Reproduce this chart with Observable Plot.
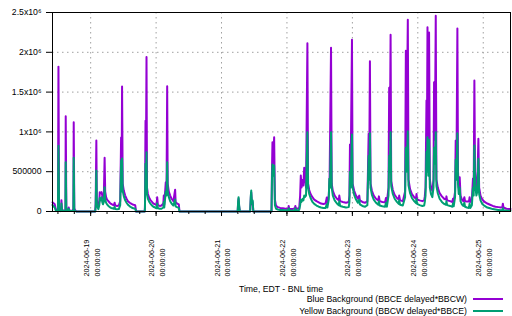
<!DOCTYPE html>
<html><head><meta charset="utf-8">
<script src="https://cdn.jsdelivr.net/npm/d3@7"></script>
<script src="https://cdn.jsdelivr.net/npm/@observablehq/plot@0.6"></script>
<style>
body{margin:0;background:#fff;font-family:"Liberation Sans",Arial,sans-serif;}
#wrap{position:relative;width:512px;height:316px;overflow:hidden;}
.ov{position:absolute;font-size:8.7px;line-height:10px;color:#000;white-space:nowrap;}
.leg{right:9px;display:flex;align-items:center;}
.sw{display:inline-block;width:30px;height:2px;margin-left:6px;}
</style></head><body><div id="wrap"></div>
<script>
// ---- data ----
const seriesNames = ["Blue Background (BBCE delayed*BBCW)", "Yellow Background (BBCW delayed*BBCE)"];
const seriesColors = ["#9400d3", "#009e73"];
const xAxisTitle = "Time, EDT - BNL time";
const dayTickLabels = ["2024-06-19","2024-06-20","2024-06-21","2024-06-22","2024-06-23","2024-06-24","2024-06-25"];
const timeTickLabel = "00:00:00";
const yTicks = [0, 500000, 1000000, 1500000, 2000000, 2500000];
const yTickLabels = ["0", "500000", "1x10\u2076", "1.5x10\u2076", "2x10\u2076", "2.5x10\u2076"];
const xDomain = ["2024-06-18 10:00", "2024-06-25 10:00"];

// [day hh:mm (June 2024), value]
const blueBackground = [
["18 10:00",115000],["18 10:30",100000],["18 10:50",90000],["18 11:10",30000],["18 11:40",15000],["18 12:00",20000],
["18 12:11",1820000],["18 12:25",40000],["18 12:50",15000],["18 13:10",30000],["18 13:17",140000],["18 13:30",20000],
["18 14:20",10000],["18 14:45",15000],["18 14:51",1197000],["18 15:05",20000],["18 15:40",15000],["18 15:57",50000],
["18 16:15",10000],["18 17:20",10000],["18 17:40",30000],["18 17:47",1120000],["18 18:00",40000],["18 18:20",15000],
["18 18:50",0],["19 01:40",0],
["19 01:50",100000],["19 02:05",892000],["19 02:15",150000],["19 02:35",90000],["19 02:50",60000],["19 03:10",120000],
["19 03:20",243000],["19 03:40",230000],["19 04:00",243000],["19 04:15",200000],["19 04:30",160000],["19 04:50",200000],
["19 05:07",675000],["19 05:20",250000],["19 05:40",180000],["19 06:00",150000],["19 06:30",130000],["19 07:00",110000],
["19 07:30",95000],["19 08:00",85000],["19 08:30",80000],["19 08:47",110000],["19 09:00",75000],["19 09:40",70000],
["19 10:20",75000],["19 10:50",130000],["19 11:10",930000],["19 11:20",300000],["19 11:31",1570000],["19 11:45",350000],
["19 12:10",260000],["19 12:40",200000],["19 13:10",160000],["19 13:40",130000],["19 14:20",110000],["19 15:00",95000],
["19 15:40",85000],["19 16:20",80000],["19 16:40",0],["19 19:50",0],
["19 19:55",80000],["19 20:07",1140000],["19 20:15",500000],["19 20:29",1940000],["19 20:40",300000],["19 21:00",220000],
["19 21:30",170000],["19 22:00",140000],["19 22:30",120000],["19 23:00",100000],["19 23:40",90000],["20 00:10",80000],
["20 00:24",180000],["20 00:40",80000],["20 01:20",70000],["20 02:00",75000],["20 02:40",100000],["20 02:49",200000],
["20 03:00",90000],["20 03:33",368000],["20 03:50",300000],["20 04:04",1574000],["20 04:15",350000],["20 04:40",250000],
["20 05:10",200000],["20 05:40",160000],["20 06:20",130000],["20 06:59",273000],["20 07:10",120000],["20 07:40",100000],
["20 08:20",90000],["20 08:35",0],["21 05:55",0],
["21 06:05",100000],["21 06:15",160000],["21 06:30",50000],["21 06:45",0],["21 10:30",0],["21 10:45",180000],
["21 10:54",240000],["21 11:10",90000],["21 11:25",120000],["21 11:40",0],["21 18:20",0],
["21 18:30",500000],["21 18:41",870000],["21 18:55",600000],["21 19:18",933000],["21 19:35",150000],["21 20:00",70000],
["21 20:40",55000],["21 21:30",45000],["21 22:30",40000],["21 23:30",35000],["22 00:30",35000],["22 00:38",70000],
["22 00:50",30000],["22 02:00",30000],["22 02:55",40000],["22 03:05",70000],["22 03:20",35000],["22 04:30",40000],
["22 04:50",200000],["22 05:05",452000],["22 05:20",300000],["22 05:50",400000],["22 06:02",327000],["22 06:20",550000],
["22 06:33",473000],["22 07:00",300000],["22 07:30",2115000],["22 07:45",350000],["22 08:10",270000],["22 08:40",220000],
["22 09:20",180000],["22 10:00",150000],["22 10:50",130000],["22 11:40",115000],["22 12:30",100000],["22 13:20",95000],
["22 14:10",100000],["22 14:36",175000],["22 14:50",110000],["22 15:20",200000],["22 15:40",450000],["22 16:10",2057000],
["22 16:25",350000],["22 16:50",260000],["22 17:30",200000],["22 18:20",160000],["22 19:00",140000],["22 19:12",200000],
["22 19:30",130000],["22 20:30",120000],["22 21:40",110000],["22 22:40",120000],["22 22:55",200000],["22 23:07",842000],
["22 23:20",400000],["22 23:51",2157000],["23 00:05",350000],["23 00:40",260000],["23 01:20",200000],["23 02:00",160000],
["23 02:31",200000],["23 02:45",140000],["23 03:40",120000],["23 04:40",110000],["23 05:30",130000],["23 05:58",976000],
["23 06:10",500000],["23 06:26",1888000],["23 06:40",350000],["23 07:10",260000],["23 07:50",200000],["23 08:40",160000],
["23 09:30",140000],["23 09:44",190000],["23 10:00",130000],["23 11:00",120000],["23 12:00",115000],["23 12:18",170000],
["23 12:40",120000],["23 13:15",300000],["23 13:30",1554000],["23 13:45",900000],["23 14:01",2220000],["23 14:15",380000],
["23 14:50",270000],["23 15:30",210000],["23 16:20",170000],["23 17:00",150000],["23 17:10",200000],["23 17:30",140000],
["23 18:30",130000],["23 19:20",250000],["23 19:37",2020000],["23 19:50",700000],["23 20:20",2410000],["23 20:35",400000],
["23 21:10",280000],["23 21:50",220000],["23 22:40",180000],["23 23:20",160000],["23 23:31",220000],["23 23:45",150000],
["24 00:40",140000],["24 01:40",130000],["24 02:20",140000],["24 02:34",190000],["24 02:50",300000],["24 03:11",1394000],
["24 03:20",800000],["24 03:33",2315000],["24 03:50",700000],["24 04:08",2250000],["24 04:25",400000],["24 04:50",300000],
["24 05:20",260000],["24 05:45",400000],["24 05:58",1624000],["24 06:15",900000],["24 06:35",2460000],["24 06:50",400000],
["24 07:20",300000],["24 08:00",230000],["24 08:50",190000],["24 09:40",160000],["24 10:20",150000],["24 10:30",190000],
["24 10:45",140000],["24 11:50",130000],["24 12:40",120000],["24 12:54",160000],["24 13:10",120000],["24 13:40",250000],
["24 13:54",892000],["24 14:10",500000],["24 14:31",2300000],["24 14:45",500000],["24 15:00",300000],["24 15:22",430000],
["24 15:40",200000],["24 16:10",150000],["24 16:40",130000],["24 17:04",180000],["24 17:20",130000],["24 18:00",125000],
["24 18:45",125000],["24 19:00",180000],["24 19:15",120000],["24 19:50",150000],["24 20:14",415000],["24 20:30",300000],
["24 20:45",1646000],["24 21:00",500000],["24 21:29",280000],["24 21:50",350000],["24 22:13",913000],["24 22:30",300000],
["24 23:00",200000],["24 23:40",150000],["25 00:30",120000],["25 01:30",100000],["25 02:30",85000],["25 03:30",70000],
["25 04:30",60000],["25 05:30",55000],["25 06:30",50000],["25 07:00",55000],["25 07:12",97000],["25 07:25",50000],
["25 08:30",35000],["25 09:30",30000],["25 10:00",30000]
];

const yellowBackground = [
["18 10:00",80000],["18 10:30",60000],["18 10:50",50000],["18 11:10",15000],["18 11:40",5000],["18 12:00",10000],
["18 12:11",825000],["18 12:25",20000],["18 12:50",5000],["18 13:10",20000],["18 13:17",100000],["18 13:30",10000],
["18 14:20",5000],["18 14:45",10000],["18 14:51",620000],["18 15:05",10000],["18 15:40",10000],["18 15:57",35000],
["18 16:15",5000],["18 17:20",5000],["18 17:40",15000],["18 17:47",675000],["18 18:00",20000],["18 18:20",5000],
["18 18:50",0],["19 01:40",0],
["19 01:50",60000],["19 02:05",515000],["19 02:15",100000],["19 02:35",50000],["19 02:50",30000],["19 03:10",80000],
["19 03:20",170000],["19 03:40",140000],["19 04:00",180000],["19 04:15",120000],["19 04:30",90000],["19 04:50",120000],
["19 05:07",305000],["19 05:20",150000],["19 05:40",110000],["19 06:00",90000],["19 06:30",70000],["19 07:00",55000],
["19 07:30",45000],["19 08:00",40000],["19 08:30",35000],["19 08:47",60000],["19 09:00",30000],["19 09:40",28000],
["19 10:20",30000],["19 10:50",80000],["19 11:10",640000],["19 11:20",250000],["19 11:31",665000],["19 11:45",260000],
["19 12:10",190000],["19 12:40",140000],["19 13:10",110000],["19 13:40",85000],["19 14:20",65000],["19 15:00",50000],
["19 15:40",40000],["19 16:20",35000],["19 16:40",0],["19 19:50",0],
["19 19:55",40000],["19 20:07",600000],["19 20:15",300000],["19 20:29",745000],["19 20:40",220000],["19 21:00",160000],
["19 21:30",120000],["19 22:00",95000],["19 22:30",75000],["19 23:00",60000],["19 23:40",50000],["20 00:10",40000],
["20 00:24",100000],["20 00:40",40000],["20 01:20",35000],["20 02:00",35000],["20 02:40",50000],["20 02:49",120000],
["20 03:00",50000],["20 03:33",250000],["20 03:50",200000],["20 04:04",620000],["20 04:15",260000],["20 04:40",180000],
["20 05:10",130000],["20 05:40",100000],["20 06:20",75000],["20 06:59",150000],["20 07:10",65000],["20 07:40",55000],
["20 08:20",45000],["20 08:35",0],["21 05:55",0],
["21 06:05",120000],["21 06:15",180000],["21 06:30",60000],["21 06:45",0],["21 10:30",0],["21 10:45",200000],
["21 10:54",264000],["21 11:10",100000],["21 11:25",140000],["21 11:40",0],["21 18:20",0],
["21 18:30",400000],["21 18:41",590000],["21 18:55",450000],["21 19:18",578000],["21 19:35",80000],["21 20:00",35000],
["21 20:40",25000],["21 21:30",20000],["21 22:30",18000],["21 23:30",15000],["22 00:30",15000],["22 00:38",40000],
["22 00:50",12000],["22 02:00",12000],["22 02:55",15000],["22 03:05",40000],["22 03:20",15000],["22 04:30",20000],
["22 04:50",80000],["22 05:05",150000],["22 05:20",120000],["22 05:50",160000],["22 06:02",140000],["22 06:20",200000],
["22 06:33",180000],["22 07:00",200000],["22 07:30",997000],["22 07:45",300000],["22 08:10",220000],["22 08:40",170000],
["22 09:20",120000],["22 10:00",95000],["22 10:50",75000],["22 11:40",60000],["22 12:30",50000],["22 13:20",45000],
["22 14:10",45000],["22 14:36",90000],["22 14:50",50000],["22 15:20",150000],["22 15:33",410000],["22 15:45",300000],
["22 16:10",997000],["22 16:25",300000],["22 16:50",200000],["22 17:30",140000],["22 18:20",100000],["22 19:00",80000],
["22 19:12",130000],["22 19:30",70000],["22 20:30",60000],["22 21:40",50000],["22 22:40",55000],["22 22:55",120000],
["22 23:07",500000],["22 23:20",300000],["22 23:51",967000],["23 00:05",300000],["23 00:40",210000],["23 01:20",150000],
["23 02:00",110000],["23 02:31",150000],["23 02:45",90000],["23 03:40",70000],["23 04:40",60000],["23 05:30",80000],
["23 05:58",700000],["23 06:10",400000],["23 06:26",984000],["23 06:40",300000],["23 07:10",210000],["23 07:50",150000],
["23 08:40",110000],["23 09:30",85000],["23 09:44",130000],["23 10:00",75000],["23 11:00",65000],["23 12:00",60000],
["23 12:18",110000],["23 12:40",60000],["23 13:15",200000],["23 13:30",700000],["23 13:45",500000],["23 14:01",997000],
["23 14:15",320000],["23 14:50",220000],["23 15:30",160000],["23 16:20",120000],["23 17:00",95000],["23 17:10",140000],
["23 17:30",85000],["23 18:30",75000],["23 19:20",180000],["23 19:37",800000],["23 19:50",500000],["23 20:20",1009000],
["23 20:35",330000],["23 21:10",230000],["23 21:50",170000],["23 22:40",130000],["23 23:20",105000],["23 23:31",160000],
["23 23:45",95000],["24 00:40",80000],["24 01:40",70000],["24 02:20",75000],["24 02:34",120000],["24 02:50",200000],
["24 03:11",750000],["24 03:20",500000],["24 03:33",933000],["24 03:50",450000],["24 04:08",900000],["24 04:25",300000],
["24 04:50",220000],["24 05:20",180000],["24 05:45",300000],["24 05:58",800000],["24 06:15",600000],["24 06:35",997000],
["24 06:50",320000],["24 07:20",230000],["24 08:00",160000],["24 08:50",120000],["24 09:40",95000],["24 10:20",85000],
["24 10:30",130000],["24 10:45",80000],["24 11:50",70000],["24 12:40",60000],["24 12:54",100000],["24 13:10",65000],
["24 13:40",180000],["24 13:54",650000],["24 14:10",400000],["24 14:31",984000],["24 14:45",350000],["24 15:00",220000],
["24 15:22",300000],["24 15:40",130000],["24 16:10",90000],["24 16:40",70000],["24 17:04",110000],["24 17:20",60000],
["24 18:00",50000],["24 18:45",45000],["24 19:00",100000],["24 19:15",45000],["24 19:50",80000],["24 20:14",300000],
["24 20:30",200000],["24 20:45",830000],["24 21:00",350000],["24 21:29",200000],["24 21:50",250000],["24 22:13",662000],
["24 22:30",220000],["24 23:00",140000],["24 23:40",95000],["25 00:30",70000],["25 01:30",50000],["25 02:30",40000],
["25 03:30",30000],["25 04:30",25000],["25 05:30",20000],["25 06:30",15000],["25 07:00",15000],["25 07:12",40000],
["25 07:25",15000],["25 08:30",12000],["25 09:30",10000],["25 10:00",10000]
];

// ---- build ----
const parse = d3.utcParse("%Y-%m-%d %H:%M");
const toRows = (arr) => arr.map(([t, v]) => ({date: parse("2024-06-" + t), value: v}));
const blueRows = toRows(blueBackground);
const yellowRows = toRows(yellowBackground);
const x0 = parse(xDomain[0]), x1 = parse(xDomain[1]);
const dayTicks = dayTickLabels.map(s => parse(s + " 00:00"));
const minorTicks = d3.utcHour.every(6).range(x0, x1);

const chart = Plot.plot({
  width: 512, height: 316,
  marginLeft: 52, marginRight: 2, marginTop: 12, marginBottom: 105,
  style: {fontFamily: "'Liberation Sans', Arial, sans-serif", fontSize: "8.7px", background: "#fff", color: "#000"},
  x: {type: "utc", domain: [x0, x1], axis: null},
  y: {domain: [0, 2500000], axis: null},
  marks: [
    Plot.ruleY(yTicks, {stroke: "#a0a0a0", strokeOpacity: 1, strokeDasharray: "1.5,3.5"}),
    Plot.ruleX(dayTicks, {stroke: "#a0a0a0", strokeOpacity: 1, strokeDasharray: "1.5,3.5"}),
    Plot.line(blueRows, {x: "date", y: "value", stroke: seriesColors[0], strokeWidth: 2}),
    Plot.line(yellowRows, {x: "date", y: "value", stroke: seriesColors[1], strokeWidth: 2}),
    Plot.frame({stroke: "#000", strokeWidth: 1}),
    Plot.axisY(yTicks, {tickSize: 6, tickPadding: 5, label: null, fontSize: 8.7,
      tickFormat: d => yTickLabels[yTicks.indexOf(d)]}),
    Plot.axisX(minorTicks, {tickSize: 3, tickFormat: () => "", label: null}),
    Plot.axisX(dayTicks, {tickSize: 5, tickFormat: () => "", label: null}),
    Plot.text(dayTicks, {x: d => d, frameAnchor: "bottom", dy: 65, rotate: -90,
      textAnchor: "start", lineAnchor: "middle", lineHeight: 1.5, fontSize: 7.2,
      text: (d, i) => dayTickLabels[i] + "\n" + timeTickLabel})
  ]
});
const wrap = document.getElementById("wrap");
wrap.appendChild(chart);

const title = document.createElement("div");
title.className = "ov";
title.style.cssText = "left:52px;width:458px;text-align:center;top:284px;";
title.textContent = xAxisTitle;
wrap.appendChild(title);
seriesNames.forEach((name, i) => {
  const row = document.createElement("div");
  row.className = "ov leg";
  row.style.top = (294 + i * 12.4) + "px";
  const t = document.createElement("span");
  t.textContent = name;
  const sw = document.createElement("span");
  sw.className = "sw";
  sw.style.background = seriesColors[i];
  row.appendChild(t); row.appendChild(sw);
  wrap.appendChild(row);
});
</script>
</body></html>
